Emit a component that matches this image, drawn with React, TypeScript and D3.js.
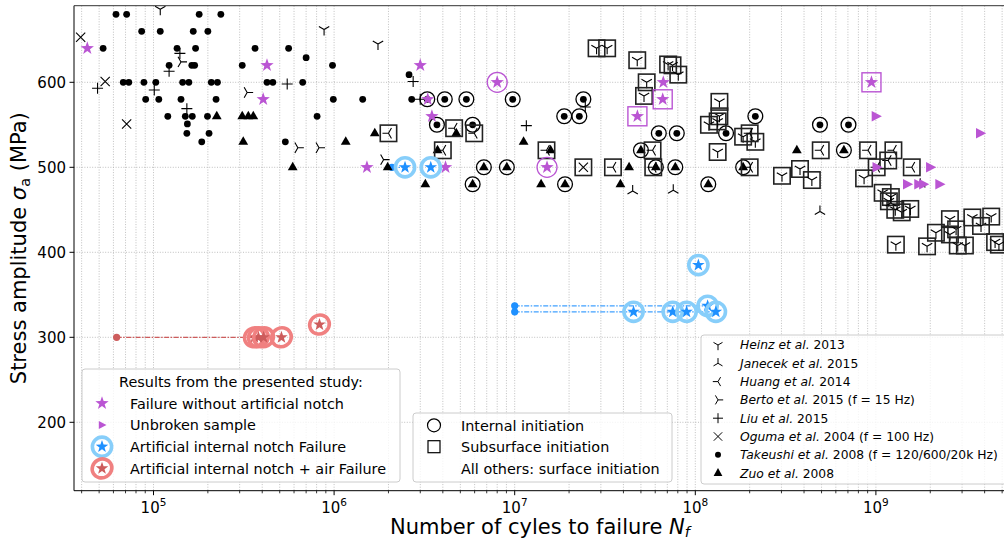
import React from 'react';
import * as d3 from 'd3';

type P = [number, number];

// Literature data (N cycles, stress amplitude MPa)
const takeuchi: P[] = [
  [6.2e4, 680], [7.1e4, 680], [1.79e5, 680], [2.36e5, 680],
  [8.6e4, 660], [1.09e5, 660], [1.66e5, 660], [2.0e5, 660],
  [5.26e4, 640], [1.35e5, 640], [1.71e5, 640], [3.65e5, 640], [5.6e5, 640],
  [1.22e5, 620], [1.63e5, 620], [1.69e5, 620], [3.1e5, 620], [7.0e5, 629], [9.8e5, 620],
  [6.8e4, 600], [7.3e4, 600], [8.85e4, 600], [1.03e5, 600], [1.45e5, 600], [1.57e5, 600], [2.09e5, 600], [2.26e5, 600], [4.25e5, 600], [4.58e5, 600], [6.7e5, 600],
  [9.05e4, 580], [1.07e5, 580], [1.42e5, 580], [2.22e5, 580], [9.9e5, 580], [1.44e6, 580], [2.69e6, 580],
  [2.6e6, 609],
  [1.2e5, 560], [1.5e5, 560], [1.64e5, 560], [1.99e5, 560], [8.05e5, 560],
  [1.54e5, 551], [1.53e5, 540], [2.03e5, 540], [1.85e5, 530], [5.37e5, 530],
];
const takeuchiInternal: P[] = [
  [3.28e6, 580], [4.1e6, 580], [5.4e6, 580], [9.75e6, 580], [2.4e7, 580], [3.71e6, 550], [5.85e6, 550],
  [1.88e7, 560], [2.28e7, 560], [6.28e7, 540], [7.9e7, 540], [1.48e8, 540], [2.15e8, 560], [4.9e8, 550], [7.05e8, 550],
];
const zuo: P[] = [
  [2.24e5, 560], [3.1e5, 560], [3.35e5, 560], [3.57e5, 560], [3.14e5, 530], [5.9e5, 500], [1.16e6, 530],
  [1.68e6, 540], [4.75e6, 540], [3.74e6, 520], [1.98e6, 500], [3.2e6, 480], [1.12e7, 530], [1.58e7, 520],
  [1.4e7, 480], [3.85e7, 480], [4.3e7, 500], [3.65e8, 520],
];
const zuoInternal: P[] = [
  [6.75e6, 500], [9.05e6, 500], [5.85e6, 480], [1.9e7, 480], [5.0e7, 520], [6.05e7, 500], [7.75e7, 500],
  [1.84e8, 500], [1.18e8, 480], [6.65e8, 520],
];
const liu: P[] = [
  [4.9e4, 593], [1.22e5, 613], [1.4e5, 634], [1.01e5, 591], [1.53e5, 569], [5.5e5, 598], [2.74e6, 601],
  [3.0e6, 580], [1.16e7, 549], [2.46e7, 571],
];
const oguma: P[] = [[3.95e4, 653], [5.4e4, 601], [7.1e4, 551]];
const ogumaSubsurface: P[] = [[2.4e7, 500]];
const heinz: P[] = [[1.09e5, 686], [8.8e5, 662], [1.75e6, 645]];
const heinzSubsurface: P[] = [
  [2.84e7, 640], [3.25e7, 640], [4.77e7, 626], [5.38e7, 600], [5.2e7, 584], [7.07e7, 621], [7.48e7, 620],
  [8.05e7, 609], [1.36e8, 577], [1.36e8, 560], [1.19e8, 550], [1.33e8, 554], [1.33e8, 518], [1.84e8, 536],
  [2.15e8, 530], [3.02e8, 490], [3.8e8, 498], [4.42e8, 485], [8.6e8, 487], [1.09e9, 470], [1.21e9, 465],
  [1.18e9, 460], [1.28e9, 450], [1.39e9, 447], [1.55e9, 451], [2.57e9, 439], [2.78e9, 427], [2.15e9, 423],
  [2.57e9, 421], [3.42e9, 441], [3.82e9, 431], [4.35e9, 442], [1.29e9, 409], [1.92e9, 407], [2.84e9, 408],
  [3.11e9, 408], [4.57e9, 412], [4.8e9, 409],
];
const huangSubsurface: P[] = [
  [2.0e6, 540], [4.62e6, 546], [5.97e6, 540], [4.0e6, 520], [1.5e7, 520], [3.5e7, 500], [5.8e7, 520],
  [5.85e7, 500], [2.0e8, 540], [4.95e8, 520], [9.05e8, 520], [1.25e9, 520], [1.17e9, 508], [1.58e9, 500],
  [2.0e8, 500], [1.01e9, 500],
];
const berto: P[] = [[1.42e5, 624], [3.3e5, 588], [6.3e5, 523], [8.25e5, 523], [1.88e6, 509]];
const janecek: P[] = [[4.5e7, 472], [7.55e7, 473], [4.9e8, 448], [1.21e9, 458], [1.76e9, 480]];

// Presented study
const failNoNotch: P[] = [
  [4.3e4, 640], [4.25e5, 620], [4.05e5, 580], [3.0e6, 620], [3.3e6, 580], [3.48e6, 560], [1.52e6, 500],
  [4.14e6, 500], [6.65e7, 600],
];
const failNoNotchInternal: P[] = [[8.0e6, 600], [1.51e7, 500]];
const failNoNotchSubsurface: P[] = [[4.78e7, 560], [6.6e7, 580], [9.45e8, 600]];
const unbroken: P[] = [
  [1.0e9, 560], [3.78e9, 540], [1.01e9, 500], [2.0e9, 500], [1.49e9, 480], [1.72e9, 480], [1.83e9, 480], [2.25e9, 480],
];
const notchFailure: P[] = [
  [2.47e6, 500], [3.43e6, 500], [4.55e7, 330], [7.5e7, 330], [8.95e7, 330], [1.04e8, 385], [1.17e8, 337], [1.3e8, 330],
];
const notchStart: P[] = [[2.09e6, 500], [1.0e7, 337], [1.0e7, 330]];
const notchSegments: [P, P][] = [
  [[2.09e6, 500], [2.47e6, 500]],
  [[1.0e7, 337], [1.17e8, 337]],
  [[1.0e7, 330], [1.3e8, 330]],
];
const airFailure: P[] = [[3.62e5, 300], [3.81e5, 300], [4.07e5, 300], [5.11e5, 300], [8.3e5, 315]];
const airStart: P[] = [[6.25e4, 300]];
const airSegments: [P, P][] = [[[6.25e4, 300], [3.62e5, 300]]];

const yTicks = [200, 300, 400, 500, 600];
const xDecades = [5, 6, 7, 8, 9];

const refNames = [
  ['Heinz et al.', ' 2013', 'tri_down'],
  ['Janecek et al.', ' 2015', 'tri_up'],
  ['Huang et al.', ' 2014', 'tri_left'],
  ['Berto et al.', ' 2015 (f = 15 Hz)', 'tri_right'],
  ['Liu et al.', ' 2015', 'plus'],
  ['Oguma et al.', ' 2004 (f = 100 Hz)', 'x'],
  ['Takeushi et al.', ' 2008 (f = 120/600/20k Hz)', 'dot'],
  ['Zuo et al.', ' 2008', 'tri'],
];

const W = 1004, H = 541;
const AX = { left: 74, top: 5.7, right: 1006, bottom: 490.7 };
const FONT = '"DejaVu Sans", sans-serif';
const PURPLE = '#ba55d3';
const BLUE = '#1e90ff';
const LBLUE = '#87cefa';
const RED = '#cd5c5c';
const LRED = '#f08080';

const x = d3.scaleLog().domain([1e5, 1e9]).range([153.5, 153.5 + 4 * 180.6]);
const y = d3.scaleLinear().domain([200, 600]).range([422.3, 82.3]);

function starPath(r: number) {
  const pts: string[] = [];
  for (let i = 0; i < 10; i++) {
    const rr = i % 2 === 0 ? r : r * 0.4;
    const a = -Math.PI / 2 + (i * Math.PI) / 5;
    pts.push(`${(rr * Math.cos(a)).toFixed(2)},${(rr * Math.sin(a)).toFixed(2)}`);
  }
  return 'M' + pts.join('L') + 'Z';
}

function triArms(kind: string, r: number) {
  let arms: number[] = [];
  if (kind === 'tri_down') arms = [90, 210, 330];
  if (kind === 'tri_up') arms = [270, 30, 150];
  if (kind === 'tri_left') arms = [180, 60, 300];
  if (kind === 'tri_right') arms = [0, 120, 240];
  return arms
    .map((a) => {
      const t = (a * Math.PI) / 180;
      return `M0,0L${(r * Math.cos(t)).toFixed(2)},${(r * Math.sin(t)).toFixed(2)}`;
    })
    .join('');
}

function Marker({ kind, cx, cy }: { kind: string; cx: number; cy: number }) {
  const t = `translate(${cx},${cy})`;
  switch (kind) {
    case 'dot':
      return <circle cx={cx} cy={cy} r={3.4} fill="black" />;
    case 'tri':
      return <path transform={t} d="M0,-5.6L4.9,3L-4.9,3Z" fill="black" />;
    case 'plus':
      return <path transform={t} d="M-5.5,0L5.5,0M0,-5.5L0,5.5" stroke="black" strokeWidth={1.1} />;
    case 'x':
      return <path transform={t} d="M-4.6,-4.6L4.6,4.6M-4.6,4.6L4.6,-4.6" stroke="black" strokeWidth={1.1} />;
    case 'tri_down':
    case 'tri_up':
    case 'tri_left':
    case 'tri_right':
      return <path transform={t} d={triArms(kind, 6)} stroke="black" strokeWidth={1.1} fill="none" />;
    case 'square':
      return <rect x={cx - 8.2} y={cy - 8.2} width={16.4} height={16.4} fill="none" stroke="#222" strokeWidth={1.6} />;
    case 'ring':
      return <circle cx={cx} cy={cy} r={7.4} fill="none" stroke="black" strokeWidth={1.3} />;
    case 'star':
      return <path transform={t} d={starPath(7)} fill={PURPLE} />;
    case 'unbroken':
      return <path transform={t} d="M6,0L-4.2,-5.2L-4.2,5.2Z" fill={PURPLE} />;
    case 'pring':
      return <circle cx={cx} cy={cy} r={10} fill="none" stroke={PURPLE} strokeWidth={1.3} />;
    case 'psquare':
      return <rect x={cx - 9.5} y={cy - 9.5} width={19} height={19} fill="none" stroke={PURPLE} strokeWidth={1.4} />;
    case 'bstar':
      return (
        <g transform={t}>
          <circle r={9.6} fill="none" stroke={LBLUE} strokeWidth={3.6} />
          <path d={starPath(6.6)} fill={BLUE} />
        </g>
      );
    case 'rstar':
      return (
        <g transform={t}>
          <ellipse rx={10} ry={9.3} transform="rotate(-30)" fill="none" stroke={LRED} strokeWidth={3.6} />
          <path d={starPath(6.6)} fill={RED} />
        </g>
      );
    default:
      return null;
  }
}

function series(data: P[], kinds: string[], name: string) {
  return data.map((d, i) => (
    <g key={`${name}-${i}`}>
      {kinds.map((kd, j) => (
        <Marker key={j} kind={kd} cx={x(d[0])} cy={y(d[1])} />
      ))}
    </g>
  ));
}

export default function App() {
  const gridX: number[] = [];
  const minorX: number[] = [];
  for (let d = 4; d <= 9; d++) {
    for (let m = 1; m <= 9; m++) {
      const v = m * Math.pow(10, d);
      const px = x(v);
      if (px > AX.left + 0.5 && px < W + 2) {
        gridX.push(px);
        if (m !== 1) minorX.push(px);
      }
    }
  }
  const line = d3.line<P>().x((d) => x(d[0])).y((d) => y(d[1]));

  return (
    <svg width={W} height={H} style={{ position: 'absolute', left: 0, top: 0, fontFamily: FONT }}>
      <rect width={W} height={H} fill="white" />
      {/* grid */}
      <g stroke="#b0b0b0" strokeWidth={0.8} strokeDasharray="1,1.6">
        {gridX.map((px, i) => (
          <line key={i} x1={px} x2={px} y1={AX.top} y2={AX.bottom} />
        ))}
        {yTicks.map((v) => (
          <line key={v} x1={AX.left} x2={AX.right} y1={y(v)} y2={y(v)} />
        ))}
      </g>

      {/* runout lines */}
      {airSegments.map((s, i) => (
        <path key={`al${i}`} d={line(s) || ''} stroke={RED} strokeWidth={1.3} strokeDasharray="5,1.5,1.5,1.5" fill="none" />
      ))}
      {notchSegments.map((s, i) => (
        <path key={`nl${i}`} d={line(s) || ''} stroke={BLUE} strokeWidth={1.3} strokeDasharray="5,1.5,1.5,1.5" fill="none" opacity={0.85} />
      ))}
      {airStart.map((d, i) => (
        <circle key={`as${i}`} cx={x(d[0])} cy={y(d[1])} r={3.6} fill={RED} />
      ))}
      {notchStart.map((d, i) => (
        <circle key={`ns${i}`} cx={x(d[0])} cy={y(d[1])} r={3.6} fill={BLUE} />
      ))}

      {/* literature */}
      {series(takeuchi, ['dot'], 'tk')}
      {series(takeuchiInternal, ['dot', 'ring'], 'tki')}
      {series(zuo, ['tri'], 'zu')}
      {series(zuoInternal, ['tri', 'ring'], 'zui')}
      {series(liu, ['plus'], 'li')}
      {series(oguma, ['x'], 'og')}
      {series(ogumaSubsurface, ['x', 'square'], 'ogs')}
      {series(heinz, ['tri_down'], 'he')}
      {series(heinzSubsurface, ['tri_down', 'square'], 'hes')}
      {series(huangSubsurface, ['tri_left', 'square'], 'hus')}
      {series(berto, ['tri_right'], 'be')}
      {series(janecek, ['tri_up'], 'ja')}

      {/* study */}
      {series(failNoNotch, ['star'], 'fn')}
      {series(failNoNotchInternal, ['star', 'pring'], 'fni')}
      {series(failNoNotchSubsurface, ['star', 'psquare'], 'fns')}
      {series(unbroken, ['unbroken'], 'ub')}
      {series(notchFailure, ['bstar'], 'nf')}
      {series(airFailure, ['rstar'], 'af')}

      {/* spines */}
      <line x1={AX.left} x2={AX.left} y1={AX.top} y2={AX.bottom} stroke="black" strokeWidth={1} />
      <line x1={AX.left} x2={W + 2} y1={AX.bottom} y2={AX.bottom} stroke="black" strokeWidth={1} />
      <line x1={AX.left} x2={W + 2} y1={AX.top} y2={AX.top} stroke="#333" strokeWidth={1} />

      {/* y ticks */}
      {yTicks.map((v) => (
        <g key={`yt${v}`}>
          <line x1={AX.left - 4.5} x2={AX.left} y1={y(v)} y2={y(v)} stroke="black" strokeWidth={1} />
          <text x={AX.left - 8} y={y(v) + 5.4} textAnchor="end" fontSize={15}>
            {v}
          </text>
        </g>
      ))}
      {/* x ticks */}
      {minorX.map((px, i) => (
        <line key={`mx${i}`} x1={px} x2={px} y1={AX.bottom} y2={AX.bottom + 2.6} stroke="black" strokeWidth={0.8} />
      ))}
      {xDecades.map((d) => (
        <g key={`xt${d}`}>
          <line x1={x(Math.pow(10, d))} x2={x(Math.pow(10, d))} y1={AX.bottom} y2={AX.bottom + 4.5} stroke="black" strokeWidth={1} />
          <text x={x(Math.pow(10, d))} y={512.5} textAnchor="middle" fontSize={15}>
            10<tspan dy={-6.5} fontSize={10.5}>{d}</tspan>
          </text>
        </g>
      ))}

      {/* axis labels */}
      <text transform={`translate(26,${(AX.top + AX.bottom) / 2}) rotate(-90)`} textAnchor="middle" fontSize={21}>
        Stress amplitude <tspan fontStyle="italic">σ</tspan>
        <tspan fontSize={14.5} dy={4}>a</tspan>
        <tspan dy={-4}> (MPa)</tspan>
      </text>
      <text x={(AX.left + AX.right) / 2} y={534} textAnchor="middle" fontSize={21}>
        Number of cyles to failure <tspan fontStyle="italic">N</tspan>
        <tspan fontStyle="italic" fontSize={14.5} dy={3}>f</tspan>
      </text>

      {/* legend 1 */}
      <g>
        <rect x={82} y={369} width={318} height={113} rx={3} fill="white" fillOpacity={0.8} stroke="#cccccc" />
        <text x={241} y={386.5} textAnchor="middle" fontSize={14.4}>
          Results from the presented study:
        </text>
        {[
          ['star', 'Failure without artificial notch'],
          ['unbroken_s', 'Unbroken sample'],
          ['bstar', 'Artificial internal notch Failure'],
          ['rstar', 'Artificial internal notch + air Failure'],
        ].map((e, i) => {
          const cy = 403.3 + i * 21.7;
          return (
            <g key={`l1${i}`}>
              {e[0] === 'unbroken_s' ? (
                <path transform={`translate(102,${cy})`} d="M4.5,0L-3.2,-4L-3.2,4Z" fill={PURPLE} />
              ) : (
                <Marker kind={e[0]} cx={102} cy={cy} />
              )}
              <text x={130} y={cy + 5.2} fontSize={14.4}>
                {e[1]}
              </text>
            </g>
          );
        })}
      </g>

      {/* legend 2 */}
      <g>
        <rect x={413} y={413} width={259} height={69} rx={3} fill="white" fillOpacity={0.8} stroke="#cccccc" />
        <circle cx={434} cy={425.3} r={6.5} fill="none" stroke="black" strokeWidth={1.2} />
        <text x={461} y={430.5} fontSize={14.4}>Internal initiation</text>
        <rect x={428} y={440.7} width={12} height={12} fill="none" stroke="black" strokeWidth={1.2} />
        <text x={461} y={451.9} fontSize={14.4}>Subsurface initiation</text>
        <text x={461} y={473.5} fontSize={14.4}>All others: surface initiation</text>
      </g>

      {/* legend 3 */}
      <g>
        <rect x={701} y={335} width={320} height={149} rx={3} fill="white" fillOpacity={0.8} stroke="#cccccc" />
        {refNames.map((r, i) => {
          const cy = 345 + i * 18.3;
          return (
            <g key={`l3${i}`}>
              {r[2] === 'dot' ? (
                <circle cx={718} cy={cy} r={3} fill="black" />
              ) : r[2] === 'tri' ? (
                <path transform={`translate(718,${cy})`} d="M0,-5L4.4,2.8L-4.4,2.8Z" fill="black" />
              ) : r[2] === 'plus' ? (
                <path transform={`translate(718,${cy})`} d="M-5,0L5,0M0,-5L0,5" stroke="black" strokeWidth={1} />
              ) : r[2] === 'x' ? (
                <path transform={`translate(718,${cy})`} d="M-4.2,-4.2L4.2,4.2M-4.2,4.2L4.2,-4.2" stroke="black" strokeWidth={1} />
              ) : (
                <path transform={`translate(718,${cy})`} d={triArms(r[2], 5.2)} stroke="black" strokeWidth={1} fill="none" />
              )}
              <text x={740} y={cy + 4.4} fontSize={12.3}>
                <tspan fontStyle="italic">{r[0]}</tspan>
                {r[1]}
              </text>
            </g>
          );
        })}
      </g>
    </svg>
  );
}
